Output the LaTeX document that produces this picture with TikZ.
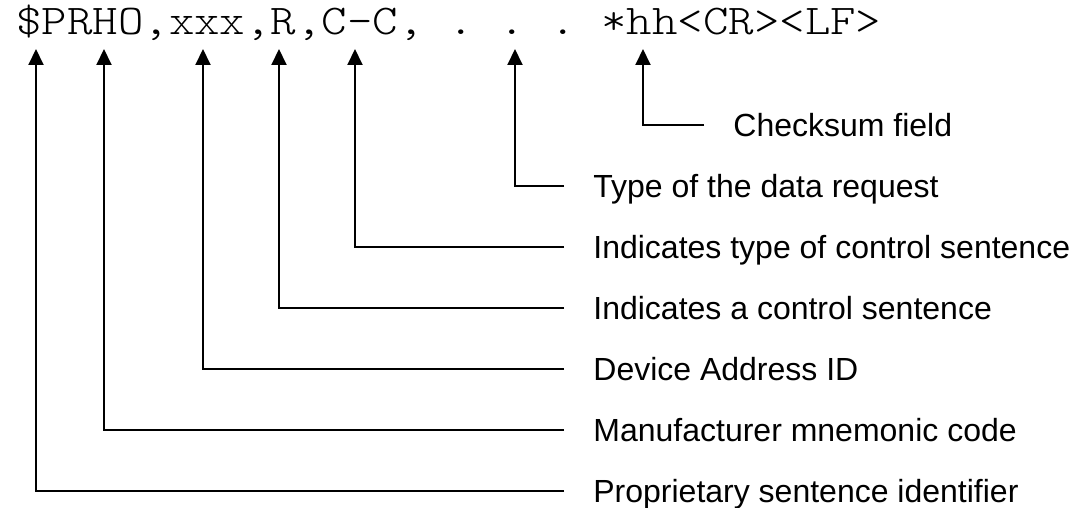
\documentclass[tikz,border=0pt]{standalone}
\usepackage{fontspec}
\setmainfont{Liberation Sans}
\newfontfamily\msgfont{Latin Modern Mono Light}[FakeStretch=1.143]
\newcommand{\gap}{\hphantom{.}}
\usetikzlibrary{arrows.meta}

\begin{document}
\begin{tikzpicture}[x=0.5pt,y=-0.5pt,>={Triangle[length=8pt,width=7.5pt]},
    field/.style={anchor=west,inner xsep=14.5pt,inner ysep=0pt,
      text height=11.5pt,text depth=0pt,font=\fontsize{16}{19}\selectfont},
    pointer/.style={->,line width=1pt}]
  \useasboundingbox (0,0) rectangle (1073,508);
  %
  % Sentence
  \node[anchor=base west,inner sep=0pt,font=\msgfont\fontsize{21.2}{25}\selectfont]
    (msg) at (16,35) {\$PRHO,xxx,R,C-C,\gap.\gap.\gap.\gap*hh<CR><LF>};
  %
  % Pointed fields
  \coordinate (pdollar) at (36,49);
  \coordinate (pmaker) at (104,49);
  \coordinate (paddr) at (203,49);
  \coordinate (pctrl) at (279,49);
  \coordinate (pctype) at (355,49);
  \coordinate (preq) at (515,49);
  \coordinate (phh) at (643,49);
  %
  % Field labels
  \node[field] (chk) at (704,125) {Checksum field};
  \node[field] (req) at (564,186) {Type of the data request};
  \node[field] (ctype) at (564,247) {Indicates type of control sentence};
  \node[field] (ctrl) at (564,308) {Indicates a control sentence};
  \node[field] (addr) at (564,369) {Device Address ID};
  \node[field] (maker) at (564,430) {Manufacturer mnemonic code};
  \node[field] (ident) at (564,491) {Proprietary sentence identifier};
  %
  % Pointers
  \draw[pointer] (chk.west) -| (phh);
  \draw[pointer] (req.west) -| (preq);
  \draw[pointer] (ctype.west) -| (pctype);
  \draw[pointer] (ctrl.west) -| (pctrl);
  \draw[pointer] (addr.west) -| (paddr);
  \draw[pointer] (maker.west) -| (pmaker);
  \draw[pointer] (ident.west) -| (pdollar);
  %
\end{tikzpicture}
\end{document}
